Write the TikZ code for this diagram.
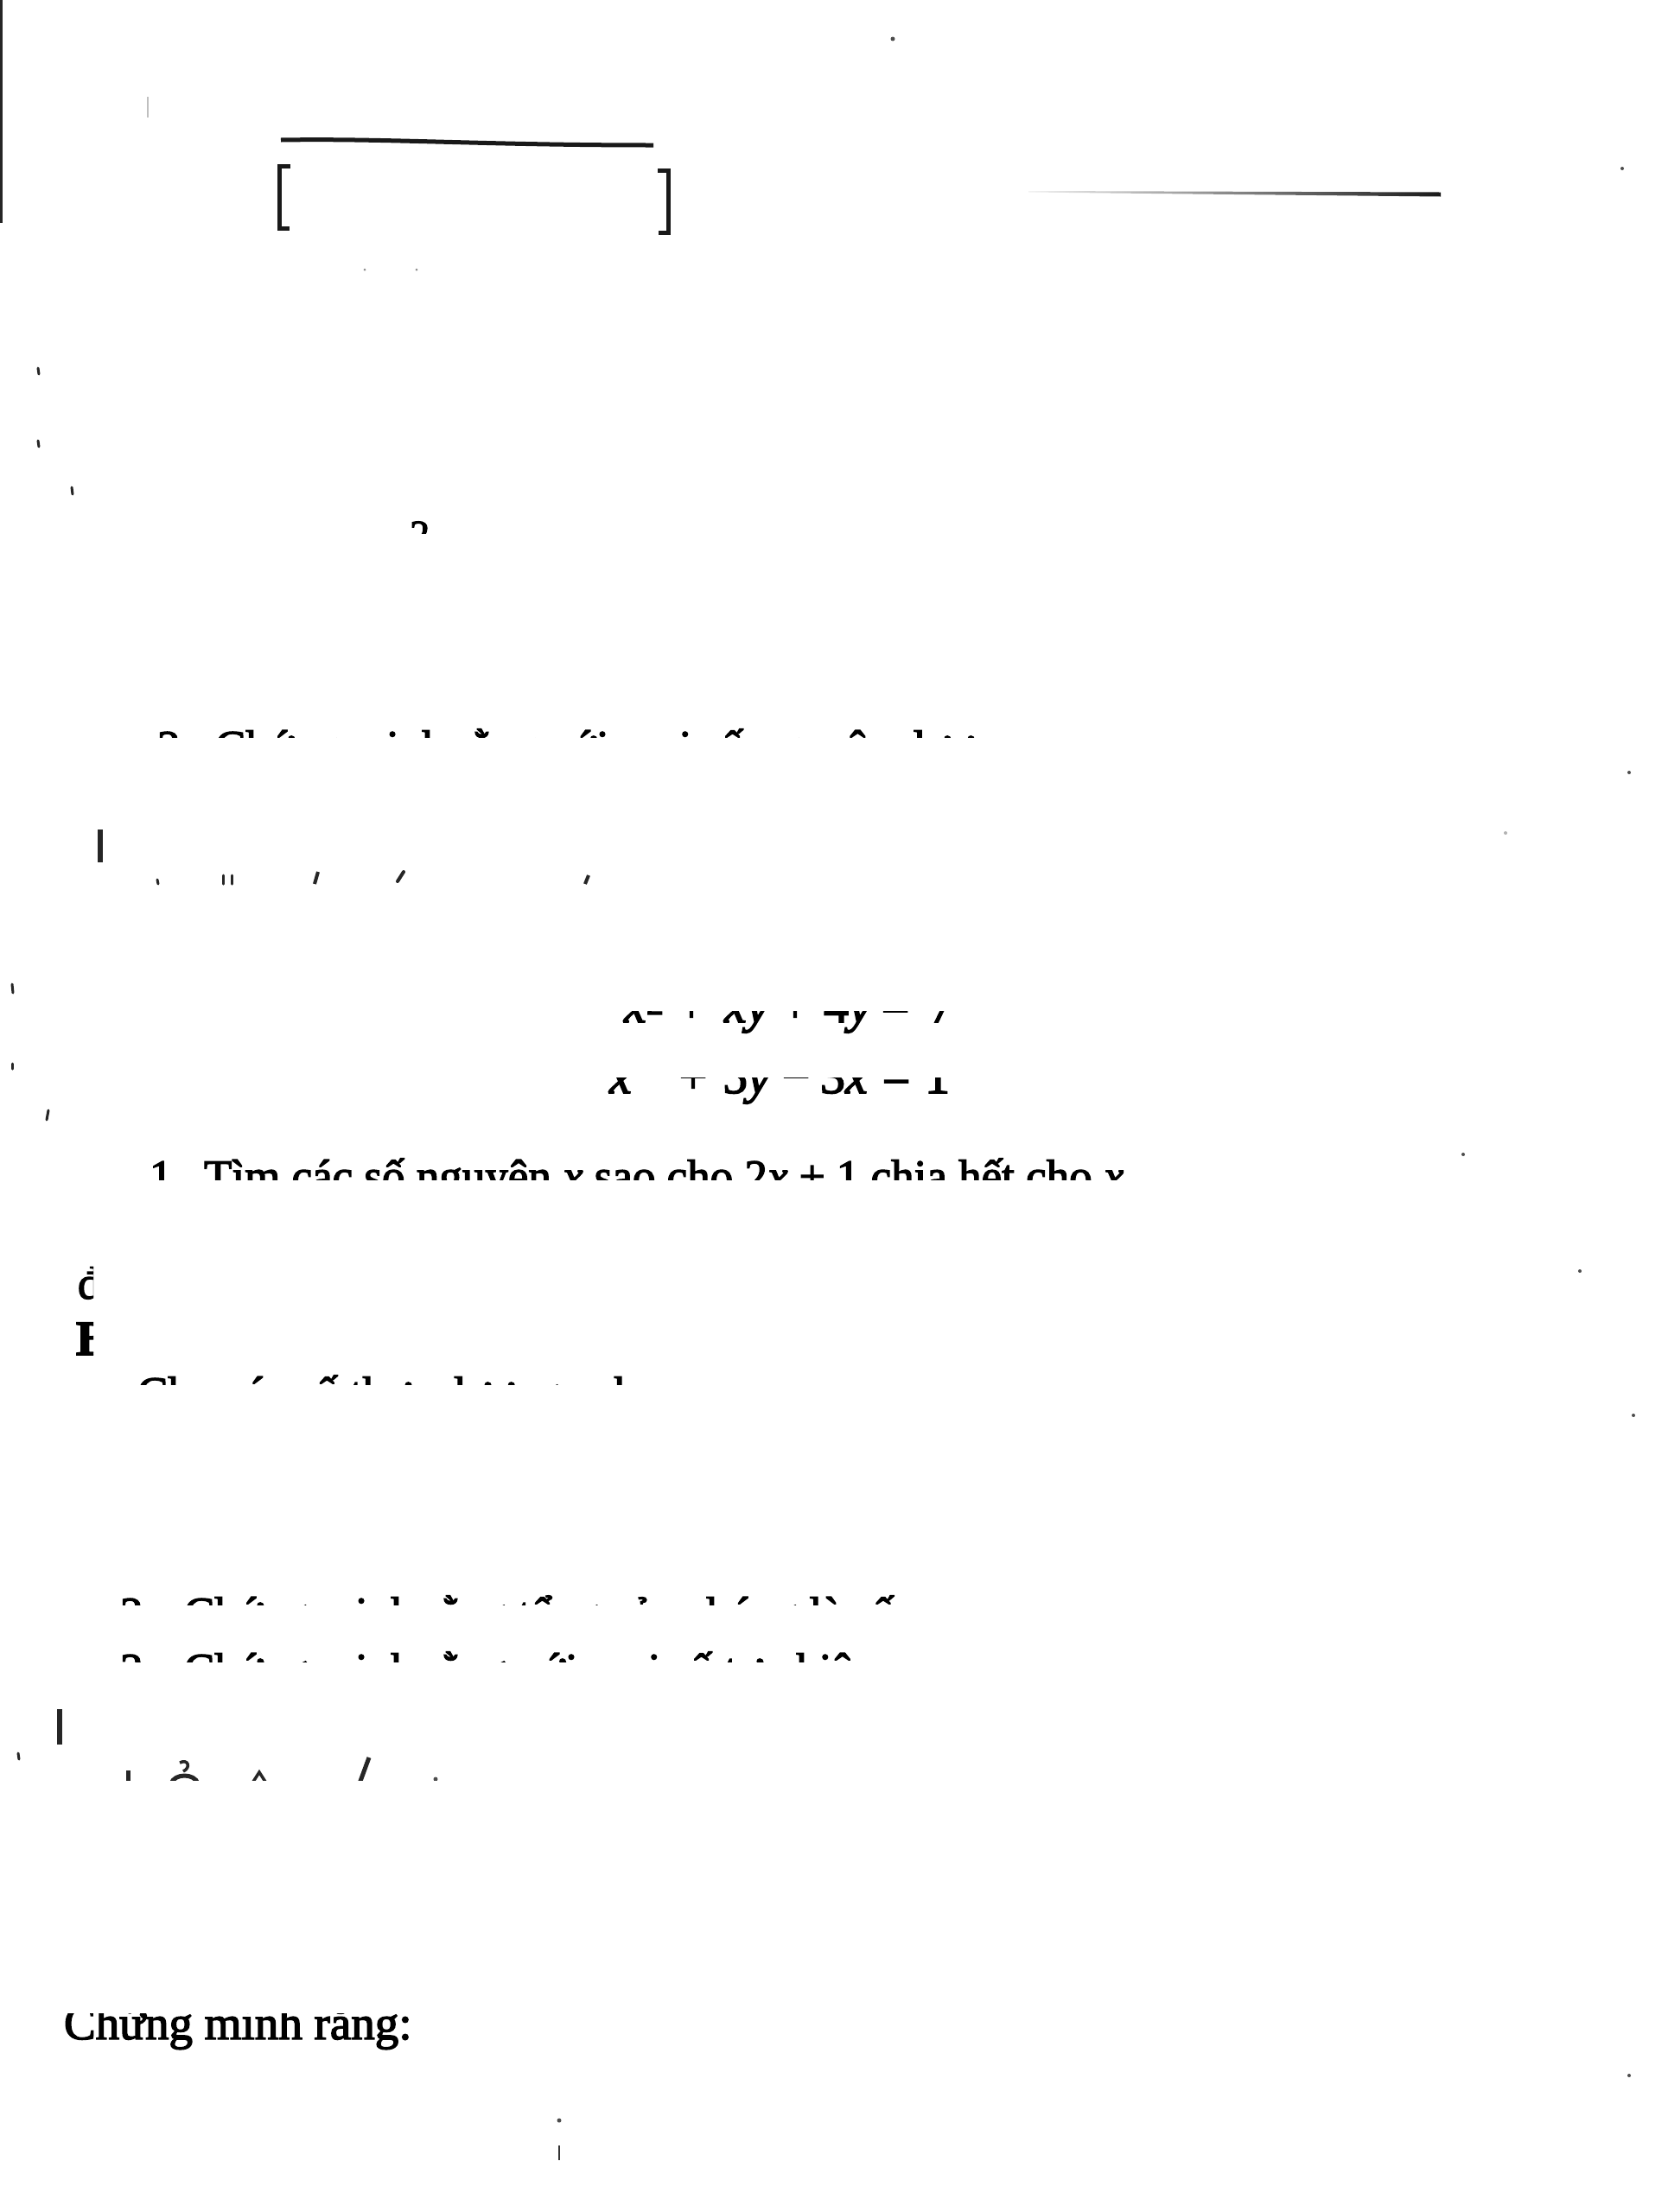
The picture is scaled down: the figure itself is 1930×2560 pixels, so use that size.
\documentclass[tikz,border=0pt]{standalone}
\usepackage{fontspec}
\setmainfont{Liberation Serif}[FakeBold=2.6]
\newcommand{\bodyfont}{\fontsize{53}{60}\selectfont}
\newcommand{\eqfont}{\fontsize{58}{64}\selectfont}
\newcommand{\smallsupfont}{\fontsize{46}{50}\selectfont}
\newcommand{\hisup}{\raisebox{25pt}{\fontsize{38}{40}\selectfont 2}}
\begin{document}
\begin{tikzpicture}[x=1pt,y=-1pt,
  txt/.style={anchor=base west, inner sep=0pt, outer sep=0pt, font=\bodyfont},
  eqp/.style={anchor=base west, inner sep=0pt, outer sep=0pt, font=\eqfont},
  eqc/.style={anchor=base, inner sep=0pt, outer sep=0pt, font=\eqfont},
  rulew/.style={line width=5pt, black!90},
  tick/.style={line width=3pt, line cap=round, black!85},
  faint/.style={line width=2pt, black!25},
  dotm/.style={circle, fill=black!70, draw=none, inner sep=0pt, minimum size=4pt}]
\fill[white] (0,0) rectangle (1930,2560);
\useasboundingbox (0,0) rectangle (1930,2560);

% ---- top region ----
\draw[line width=3pt, black!85] (1.5,0) -- (1.5,258);
\draw[faint] (171,112) -- (171,136);
\node[dotm, minimum size=5pt] (topdot) at (1033,45) {};
\draw[rulew] (325,162) .. controls (450,160) and (560,168) .. (756,168);
\draw[line width=5pt, black!90, line join=miter] (336,192) -- (323,192) -- (323,264) -- (335,264);
\draw[line width=5pt, black!90, line join=miter] (761,197) -- (773,197) -- (773,269) -- (762,269);
\shade[left color=black!5, right color=black!90] (1190,221) -- (1667,222.5) -- (1667,227.5) -- (1190,222.5) -- cycle;
\node[dotm, minimum size=3pt, fill=black!45] (sp1) at (422,312) {};
\node[dotm, minimum size=3pt, fill=black!45] (sp2) at (482,312) {};
\draw[tick] (44,426) -- (45,433);
\draw[tick] (44,510) -- (45,517);
\draw[tick] (83,564) -- (84,572);

% superscript fragment
\begin{scope}
  \clip (468,590) rectangle (505,617);
  \node[anchor=base west, inner sep=0pt, font=\smallsupfont] (supfrag) at (474,634) {2};
\end{scope}

% ---- row "2. Ch..." (tops only) ----
\begin{scope}
  \clip (170,825) rectangle (1170,853);
  \node[txt] (r2num) at (182,882) {2.};
  \node[txt] (r2txt) at (249,882) {Chứng minh rằng với mọi số nguyên dương n, số};
\end{scope}

\draw[line width=6pt, black!85] (116,960) -- (116,998);

% row of accent tops
\draw[tick] (182,1018) -- (183,1023);
\draw[tick] (258,1013) -- (258,1023);
\draw[tick] (268,1013) -- (268,1023);
\draw[line width=4pt, black!85] (368,1009) -- (364,1023);
\draw[line width=4pt, black!85, line cap=round] (467,1009) -- (460,1020);
\draw[line width=4pt, black!85] (681,1013) -- (677,1023);

\draw[tick] (14,1139) -- (15,1149);
\draw[tick] (14,1231) -- (14,1237);
\draw[tick] (56,1285) -- (54,1296);

% ---- equation system ----
\begin{scope}
  \clip (690,1170) rectangle (1120,1205);
  \node[eqp] (e1a) at (722,1183) {\textit{x}\textsuperscript{2}};
  \node[eqc] (e1b) at (800,1183) {+};
  \node[eqp] (e1c) at (838,1183) {\textit{xy}};
  \node[eqc] (e1d) at (920,1183) {+};
  \node[eqp] (e1e) at (953,1183) {4\textit{y}};
  \node[eqc] (e1f) at (1036,1183) {=};
  \node[eqp] (e1g) at (1075,1183) {7};
\end{scope}
\begin{scope}
  \clip (690,1247) rectangle (1120,1290);
  \node[eqp] (e2a) at (705,1265) {\textit{x}\hisup};
  \node[eqc] (e2b) at (802,1265) {+};
  \node[eqp] (e2c) at (836,1265) {5\textit{y}};
  \node[eqc] (e2d) at (921,1265) {−};
  \node[eqp] (e2e) at (949,1265) {3\textit{x}};
  \node[eqc] (e2f) at (1037,1265) {=};
  \node[eqp] (e2g) at (1070,1265) {1};
\end{scope}

% ---- row "1. Tìm các số nguyên ..." ----
\begin{scope}
  \clip (165,1320) rectangle (1300,1365);
  \node[txt] (r1num) at (173,1379) {1.};
  \node[txt] (r1txt) at (236,1379) {Tìm các số nguyên \textit{x} sao cho 2\textit{x} + 1 chia hết cho \textit{x} − 3};
\end{scope}

% left clipped letters
\begin{scope}
  \clip (80,1455) rectangle (108,1515);
  \node[txt] (dfrag) at (90,1503) {đặt};
\end{scope}
\begin{scope}
  \clip (80,1520) rectangle (108,1580);
  \node[txt, font=\fontsize{57}{60}\selectfont\bfseries] (bfrag) at (88,1568) {Bài};
\end{scope}

% row "Cho ..." tops
\begin{scope}
  \clip (150,1570) rectangle (770,1602);
  \node[txt] (rstxt) at (159,1630) {Cho các số thực dương a, b, c thỏa mãn};
\end{scope}

% rows "2. Ch..." and "3. Ch..." tops
\begin{scope}
  \clip (130,1835) rectangle (1090,1857);
  \node[txt] (u1num) at (139,1885) {2.};
  \node[txt] (u1txt) at (213,1885) {Chứng minh rằng tổng của chúng là số};
\end{scope}
\begin{scope}
  \clip (130,1900) rectangle (1160,1923);
  \node[txt] (u2num) at (139,1950) {3.};
  \node[txt] (u2txt) at (213,1950) {Chứng minh rằng với mọi số tự nhiên n};
\end{scope}

% embedding marks
\draw[line width=6pt, black!85] (69,1978) -- (69,2019);
\draw[tick] (21,2029) -- (22,2036);

% row of tops near 2050
\begin{scope}
  \clip (130,2025) rectangle (520,2060);
  \draw[line width=5pt, black!85] (148,2049) -- (148,2064);
  \draw[line width=3.5pt, black!85] (208,2040) .. controls (218,2035) and (221,2046) .. (212,2050);
  \draw[line width=5pt, black!85] (198,2064) .. controls (202,2052) and (225,2052) .. (229,2064);
  \draw[line width=3.5pt, black!85] (293,2062) -- (300,2051) -- (307,2062);
  \draw[line width=5pt, black!85] (427,2034) -- (416,2064);
  \node[dotm, minimum size=5pt] (idot) at (504,2059) {};
\end{scope}

% ---- "Chứng minh rằng:" ----
\begin{scope}
  \clip (60,2330) rectangle (500,2400);
  \node[txt, font=\fontsize{55}{60}\selectfont] (cmr) at (74,2360) {Chứng minh rằng:};
\end{scope}

% bottom marks
\node[dotm, minimum size=5pt] (bm1) at (647,2454) {};
\draw[line width=2pt, black!80] (647,2483) -- (647,2500);

% right-side specks
\node[dotm] (rd1) at (1877,195) {};
\node[dotm] (rd2) at (1885,894) {};
\node[dotm, fill=black!30] (rd3) at (1742,964) {};
\node[dotm] (rd4) at (1693,1336) {};
\node[dotm] (rd5) at (1828,1471) {};
\node[dotm] (rd6) at (1890,1638) {};
\node[dotm] (rd7) at (1885,2402) {};
\end{tikzpicture}
\end{document}
